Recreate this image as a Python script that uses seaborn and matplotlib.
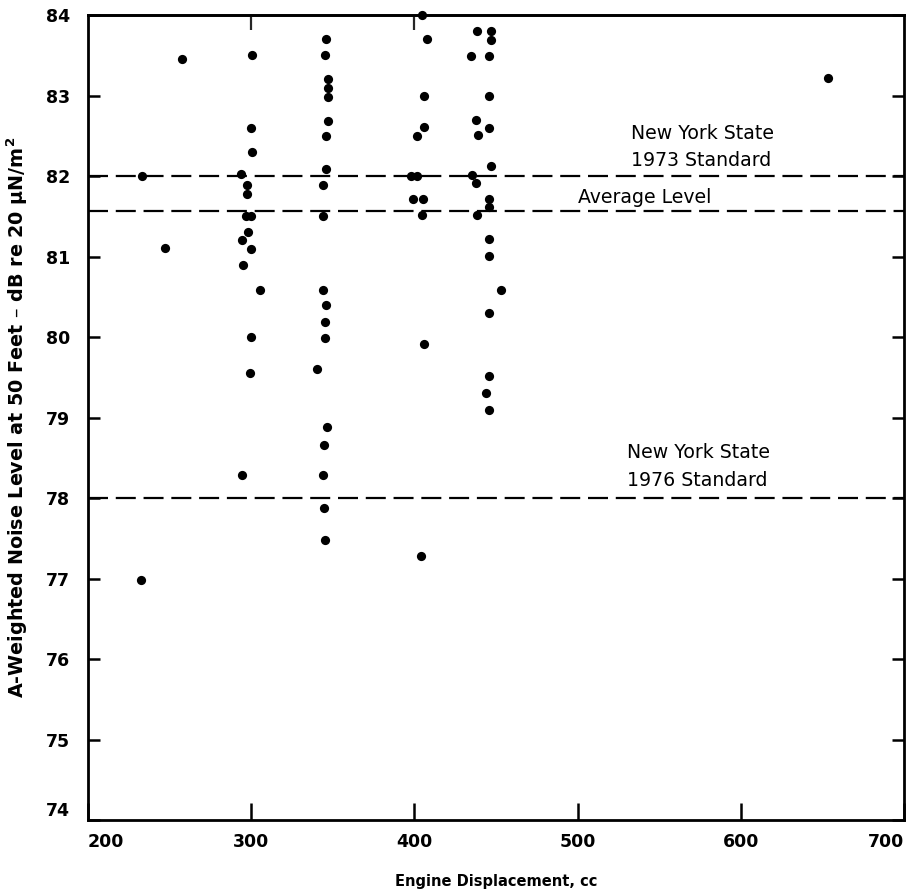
import matplotlib
matplotlib.use("Agg")
import matplotlib.pyplot as plt
from matplotlib.transforms import ScaledTranslation
import seaborn as sns
import pandas as pd

# ---- data ----
displacement = [
    232.5, 233.0, 247.0, 257.5,
    300.3, 300.0, 300.5, 293.7, 297.2, 297.2, 297.0, 300.0, 298.2, 294.2,
    299.9, 295.2, 305.4, 299.9, 299.3, 294.6,
    345.8, 345.2, 346.9, 346.9, 346.9, 347.2, 345.8, 345.8, 343.8, 344.2,
    344.2, 345.6, 345.2, 345.2, 340.5, 346.4, 344.6, 344.2, 344.8, 345.2,
    404.4, 407.5, 405.9, 406.1, 401.4, 397.7, 401.8, 399.3, 405.5, 404.8,
    406.1, 404.0,
    438.5, 446.7, 446.7, 434.5, 445.9, 445.9, 437.7, 445.9, 438.7, 446.7,
    435.1, 437.7, 445.9, 445.9, 438.1, 445.7, 445.5, 452.8, 445.9, 445.7,
    444.1, 445.7,
    653.6,
]
noise_level = [
    76.98, 82.0, 81.1, 83.45,
    83.5, 82.6, 82.3, 82.03, 81.89, 81.78, 81.5, 81.5, 81.31, 81.2,
    81.09, 80.9, 80.59, 80.0, 79.55, 78.28,
    83.7, 83.5, 83.2, 83.09, 82.98, 82.68, 82.5, 82.09, 81.89, 81.5,
    80.59, 80.4, 80.19, 79.99, 79.6, 78.88, 78.66, 78.28, 77.87, 77.48,
    84.0, 83.7, 83.0, 82.61, 82.5, 82.0, 82.0, 81.71, 81.71, 81.52,
    79.91, 77.28,
    83.8, 83.8, 83.69, 83.49, 83.49, 82.99, 82.7, 82.6, 82.51, 82.13,
    82.01, 81.91, 81.71, 81.61, 81.52, 81.22, 81.01, 80.58, 80.3, 79.51,
    79.31, 79.09,
    83.22,
]
ref_levels = [82.0, 81.56, 78.0]
x_ticks = [200, 300, 400, 500, 600, 700]
y_ticks = [74, 75, 76, 77, 78, 79, 80, 81, 82, 83, 84]
top_ticks = [300, 400]

df = pd.DataFrame({"Engine Displacement, cc": displacement,
                   "Noise": noise_level})

sns.set_theme(style="ticks")
plt.rcParams["font.family"] = ["DejaVu Sans"]
plt.rcParams["font.weight"] = "bold"

fig = plt.figure(figsize=(9.06, 8.96), dpi=100)
ax = fig.add_axes([88 / 906, 1 - 820 / 896, 816 / 906, 805 / 896])

sns.scatterplot(data=df, x="Engine Displacement, cc", y="Noise", ax=ax,
                color="black", s=44, linewidth=0, clip_on=False, zorder=3)

for lvl in ref_levels:
    ax.axhline(lvl, color="black", lw=1.6, ls=(0, (9, 3.5)), zorder=2)

ax.set_xlim(200, 700)
ax.set_ylim(74, 84)
ax.set_xticks(x_ticks)
ax.set_yticks(y_ticks)
ax.set_xticklabels([str(v) for v in x_ticks])
ax.set_yticklabels([str(v) for v in y_ticks])

for sp in ax.spines.values():
    sp.set_linewidth(2.0)
    sp.set_color("black")
    sp.set_visible(True)

ax.tick_params(axis="y", which="major", direction="in", length=8.5, width=1.8,
               left=True, right=True, labelsize=12.5, pad=13, colors="black")
ax.tick_params(axis="x", which="major", direction="in", length=12, width=1.8,
               bottom=True, top=False, labelsize=12.5, pad=9, colors="black")

sec = ax.secondary_xaxis("top")
sec.set_xticks(top_ticks)
sec.set_xticklabels([])
sec.tick_params(direction="in", length=11, width=1.6)
sec.spines["top"].set_linewidth(2.0)

# nudge the "74" label upward like the reference
for lab in ax.get_yticklabels():
    if lab.get_text() == "74":
        lab.set_transform(lab.get_transform() +
                          ScaledTranslation(0, 8 / 72, fig.dpi_scale_trans))
# keep the end x labels inside the figure like the reference
for lab in ax.get_xticklabels():
    if lab.get_text() == "200":
        lab.set_horizontalalignment("left")
    elif lab.get_text() == "700":
        lab.set_horizontalalignment("right")

ax.set_xlabel("Engine Displacement, cc", fontsize=10.5, fontweight="bold",
              color="black")
ax.set_ylabel("A-Weighted Noise Level at 50 Feet \u2013 dB re 20 \u03bcN/m$^2$",
              fontsize=13.8, fontweight="bold", color="black")
ax.xaxis.set_label_coords(0.5, -0.067)
ax.yaxis.set_label_coords(-0.071, 0.5)

tkw = dict(fontsize=13.6, fontweight="normal", color="black", va="center",
           ha="left")
ax.text(533, 82.53, "New York State", **tkw)
ax.text(533, 82.19, "1973 Standard", **tkw)
ax.text(500, 81.73, "Average Level", **tkw)
ax.text(530, 78.57, "New York State", **tkw)
ax.text(530, 78.22, "1976 Standard", **tkw)

fig.savefig("out.png", dpi=100, facecolor="white")
